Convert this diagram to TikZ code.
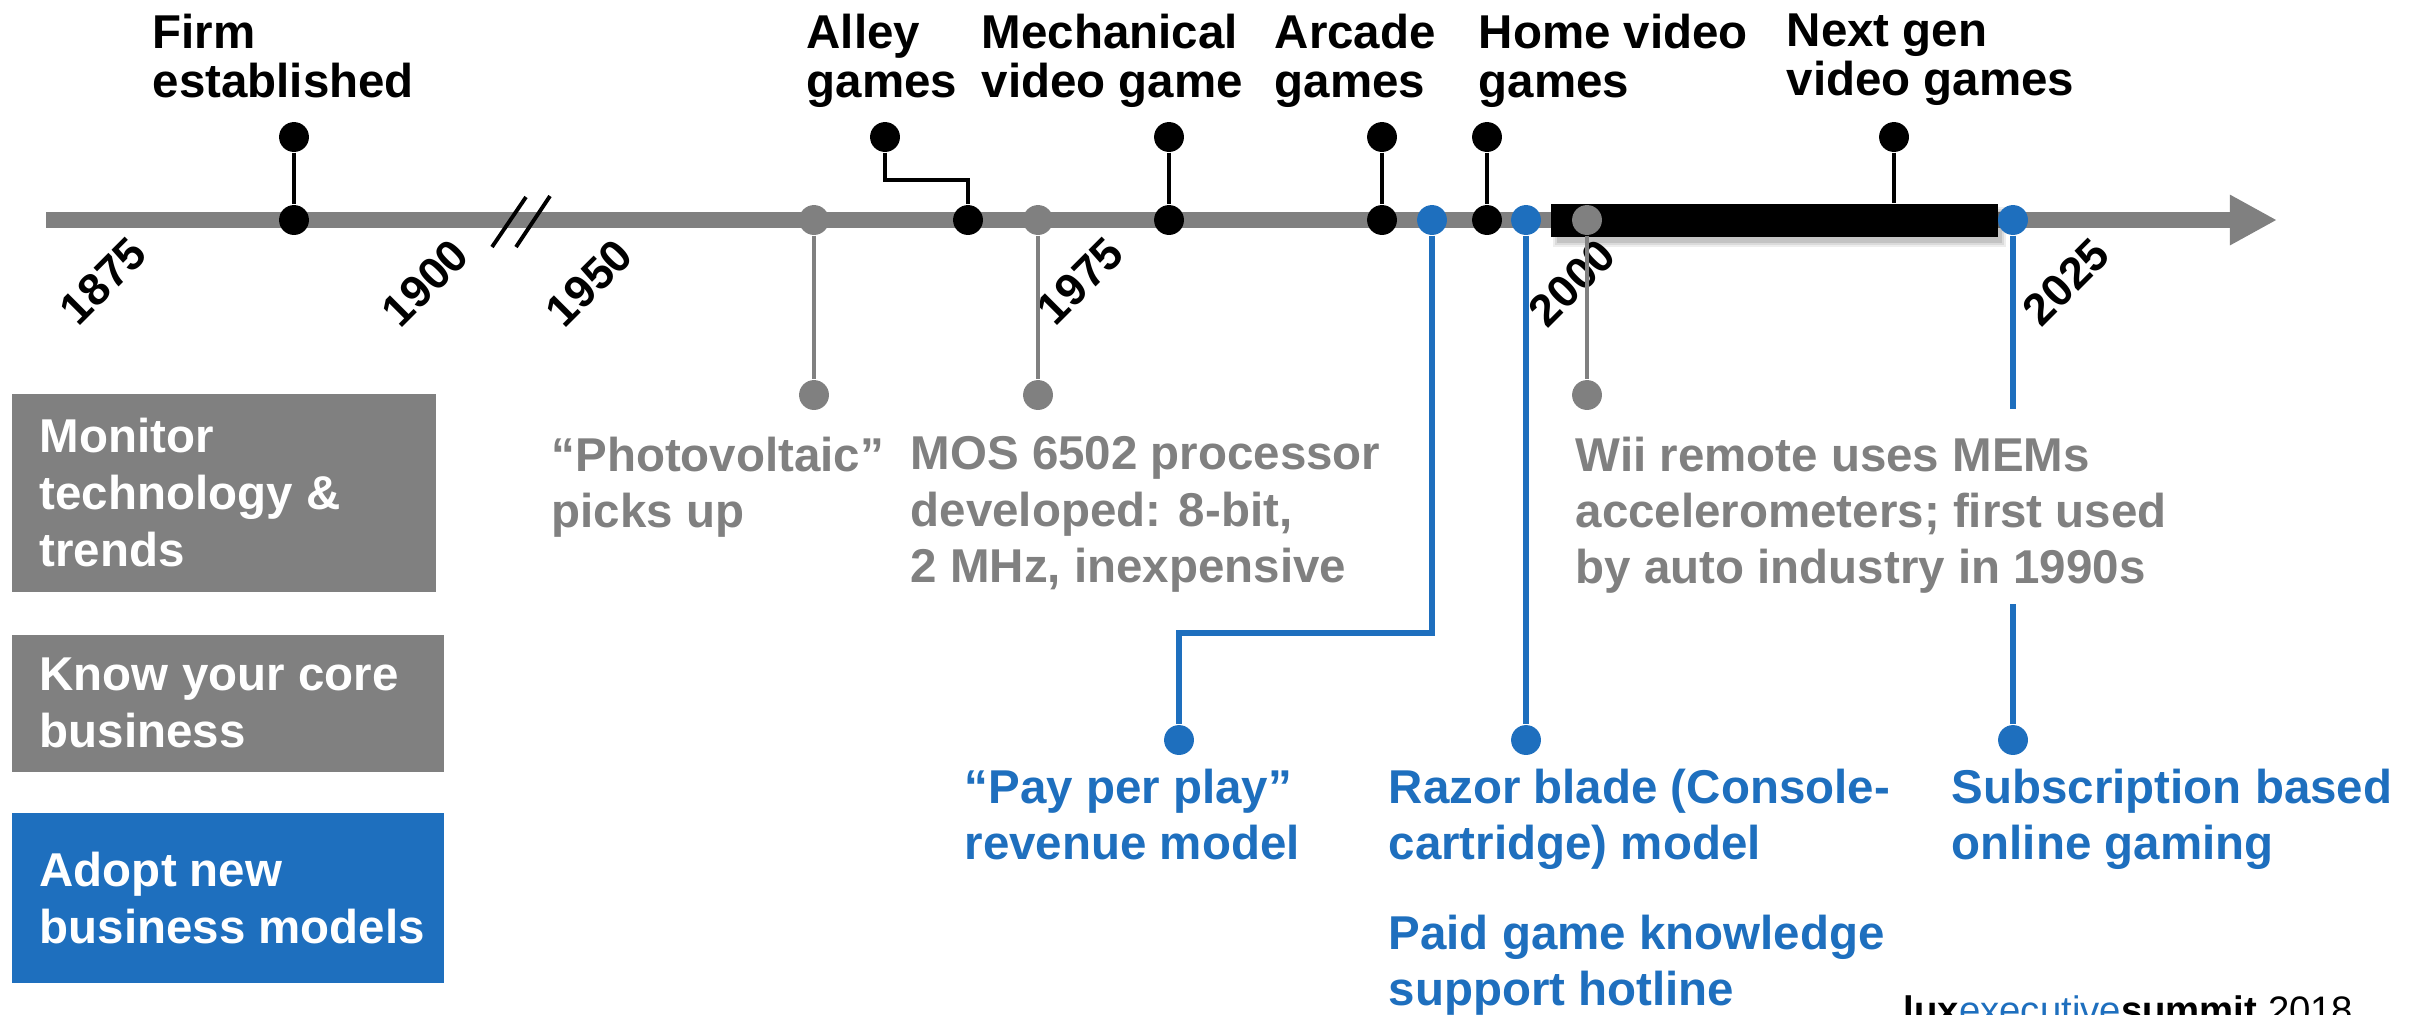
\documentclass[tikz,border=0pt]{standalone}
\usepackage{fontspec}
\setmainfont{Liberation Sans}
\usetikzlibrary{arrows.meta,calc}
\definecolor{lgray}{RGB}{128,128,128}
\definecolor{lblue}{RGB}{30,111,190}
\begin{document}
\begin{tikzpicture}[x=0.01cm, y=-0.01cm,
  lbl/.style={font=\bfseries\fontsize{13.5}{14.1}\selectfont, align=left, inner sep=0, anchor=north west},
  body/.style={font=\bfseries\fontsize{13.5}{16}\selectfont, align=left, inner sep=0, anchor=north west},
  yr/.style={font=\bfseries\fontsize{12.8}{13}\selectfont, rotate=45, anchor=base east, inner sep=0},
  dot/.style={circle, inner sep=0, minimum size=8.5pt},
  dk/.style={dot, fill=black}, dg/.style={dot, fill=lgray}, db/.style={dot, fill=lblue},
  cb/.style={draw=black, line width=1.28pt},
  cg/.style={draw=lgray, line width=1.28pt},
  cbl/.style={draw=lblue, line width=1.56pt},
  boxbg/.style={anchor=north west, inner sep=0, minimum height=#1},
  boxtxt/.style={anchor=west, inner sep=0, text=white, align=left, font=\bfseries\fontsize{13.5}{16.2}\selectfont}
]
\clip (0,0) rectangle (2419,1014);
\fill[white] (0,0) rectangle (2419,1014);

% ---- axis
\coordinate (axL) at (46,220);
\coordinate (axR) at (2277,220);
\draw[lgray, line width=4.55pt, -{Triangle[length=13.4pt,width=13.4pt]}] (axL) -- (axR);
% break marks
\draw[black, line width=1.1pt] (492,247) -- (526,197);
\draw[black, line width=1.1pt] (516,247) -- (550,196);

% ---- black bar with shadow
\fill[black, opacity=0.07] (1553,207) rectangle (2006,247);
\fill[black, opacity=0.08] (1555,209) rectangle (2004,245);
\fill[black, opacity=0.10] (1557,211) rectangle (2002,243);
\node[fill=black, inner sep=0, minimum width=127.2pt, minimum height=9.4pt, anchor=north west] (bar) at (1550,203) {};

% ---- year labels
\node[yr] (y1875) at (150,256) {1875};
\node[yr] (y1900) at (472,258) {1900};
\node[yr] (y1950) at (636,258) {1950};
\node[yr] (y1975) at (1127,256) {1975};
\node[yr] (y2000) at (1619,258) {2000};
\node[yr] (y2025) at (2113,257) {2025};

% ---- black events (above)
\node[dk] (fA) at (294,220) {};   \node[dk] (fT) at (294,137) {};
\node[dk] (aA) at (968,220) {};   \node[dk] (aT) at (885,137) {};
\coordinate (aC) at (968,180);
\node[dk] (mA) at (1169,220) {};  \node[dk] (mT) at (1169,137) {};
\node[dk] (rA) at (1382,220) {};  \node[dk] (rT) at (1382,137) {};
\node[dk] (hA) at (1487,220) {};  \node[dk] (hT) at (1487,137) {};
\node[dk] (nT) at (1894,137) {};
\draw[cb] (fT) -- (fA);
\draw[cb] (aT) |- (aC) -- (aA);
\draw[cb] (mT) -- (mA);
\draw[cb] (rT) -- (rA);
\draw[cb] (hT) -- (hA);
\draw[cb] (nT) -- (nT |- bar.north);

\node[lbl] (tFirm) at (152,13) {Firm\\established};
\node[lbl] (tAlley) at (806,13) {Alley\\games};
\node[lbl] (tMech) at (981,13) {Mechanical\\video game};
\node[lbl] (tArc) at (1274,13) {Arcade\\games};
\node[lbl] (tHome) at (1478,13) {Home video\\games};
\node[lbl] (tNext) at (1786,13) {Next gen\\video games};

% ---- gray events (technology)
\node[dg] (pA) at (814,220) {};   \node[dg] (pB) at (814,395) {};
\node[dg] (oA) at (1038,220) {};  \node[dg] (oB) at (1038,395) {};
\node[dg] (wA) at (1587,220) {};  \node[dg] (wB) at (1587,395) {};
\draw[cg] (pA) -- (pB);
\draw[cg] (oA) -- (oB);
\draw[cg] (wA) -- (wB);
\node[body, text=lgray] (tPhoto) at (551,436) {“Photovoltaic”\\picks up};
\node[body, text=lgray] (tMOS) at (910,436) {MOS 6502 processor\\developed: 8-bit,\\2 MHz, inexpensive};
\node[body, text=lgray] (tWii) at (1575,436) {Wii remote uses MEMs\\accelerometers; first used\\by auto industry in 1990s};

% ---- blue events (business models)
\node[db] (ppA) at (1432,220) {};  \node[db] (ppB) at (1179,740) {};
\coordinate (ppC) at (1179,633);
\node[db] (rzA) at (1526,220) {};  \node[db] (rzB) at (1526,740) {};
\node[db] (sbA) at (2013,220) {};  \node[db] (sbB) at (2013,740) {};
\coordinate (sb1) at (2013,409);
\coordinate (sb2) at (2013,604);
\draw[cbl] (ppA) |- (ppC) -- (ppB);
\draw[cbl] (rzA) -- (rzB);
\draw[cbl] (sbA) -- (sb1);
\draw[cbl] (sb2) -- (sbB);
\node[body, text=lblue] (tPay) at (964,768) {“Pay per play”\\revenue model};
\node[body, text=lblue] (tRazor) at (1388,768) {Razor blade (Console-\\cartridge) model};
\node[body, text=lblue] (tPaid) at (1388,914) {Paid game knowledge\\support hotline};
\node[body, text=lblue] (tSub) at (1951,768) {Subscription based\\online gaming};

% ---- left boxes
\node[boxbg=56.3pt, minimum width=120.6pt, fill=lgray] (b1) at (11,393) {};
\node[boxtxt] (b1t) at ($(b1.west)+(28,0)$) {Monitor\\technology \&\\trends};
\node[boxbg=39pt, minimum width=122.9pt, fill=lgray] (b2) at (11,634) {};
\node[boxtxt] (b2t) at ($(b2.west)+(28,0)$) {Know your core\\business};
\node[boxbg=48.4pt, minimum width=122.9pt, fill=lblue] (b3) at (11,812) {};
\node[boxtxt] (b3t) at ($(b3.west)+(28,0)$) {Adopt new\\business models};

% ---- footer
\node[anchor=north west, inner sep=0, font=\fontsize{10.9}{12}\selectfont] (lux) at (1903,995)
  {\textbf{lux}\textcolor{lblue}{executive}\textbf{summit} 2018};
\end{tikzpicture}
\end{document}
